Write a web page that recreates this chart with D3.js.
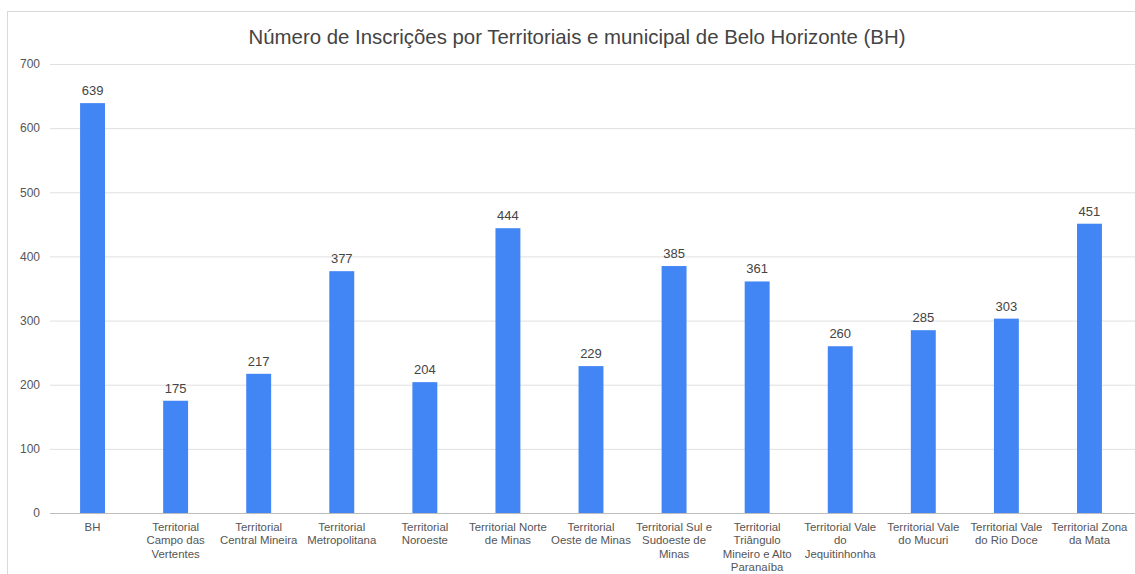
<!DOCTYPE html>
<html><head><meta charset="utf-8">
<script src="https://cdn.jsdelivr.net/npm/d3@7"></script>
<style>body{margin:0;background:#fff;}svg{display:block;font-family:"Liberation Sans",Arial,sans-serif;}</style>
</head><body>
<svg id="c" width="1135" height="574"></svg>
<script>
const categories = ["BH","Territorial Campo das Vertentes","Territorial Central Mineira","Territorial Metropolitana","Territorial Noroeste","Territorial Norte de Minas","Territorial Oeste de Minas","Territorial Sul e Sudoeste de Minas","Territorial Triângulo Mineiro e Alto Paranaíba","Territorial Vale do Jequitinhonha","Territorial Vale do Mucuri","Territorial Vale do Rio Doce","Territorial Zona da Mata"];
const labelLines = [["BH"],["Territorial","Campo das","Vertentes"],["Territorial","Central Mineira"],["Territorial","Metropolitana"],["Territorial","Noroeste"],["Territorial Norte","de Minas"],["Territorial","Oeste de Minas"],["Territorial Sul e","Sudoeste de","Minas"],["Territorial","Triângulo","Mineiro e Alto","Paranaíba"],["Territorial Vale","do","Jequitinhonha"],["Territorial Vale","do Mucuri"],["Territorial Vale","do Rio Doce"],["Territorial Zona","da Mata"]];
const values = [639,175,217,377,204,444,229,385,361,260,285,303,451];
const yTicks = [0,100,200,300,400,500,600,700];
const title = "Número de Inscrições por Territoriais e municipal de Belo Horizonte (BH)";

const svg = d3.select("#c");
// frame
svg.append("line").attr("x1",7.5).attr("x2",7.5).attr("y1",11).attr("y2",574).attr("stroke","#d9d9d9");
svg.append("line").attr("x1",7).attr("x2",1135).attr("y1",11.5).attr("y2",11.5).attr("stroke","#d9d9d9");

const x = d3.scaleBand().domain(categories).range([51,1131]).paddingInner(0.7).paddingOuter(0.35);
const y = d3.scaleLinear().domain([0,700]).range([513,64]);

svg.append("text").attr("x",577).attr("y",44).attr("text-anchor","middle")
  .attr("font-size",20.4).attr("fill","#444").text(title);

const ga = svg.append("g").attr("transform","translate(50,0)")
  .call(d3.axisLeft(y).tickValues(yTicks).tickSize(-1085).tickFormat(d3.format("d")));
ga.select(".domain").remove();
ga.selectAll(".tick line").attr("stroke",(d)=>d===0?"#bdbdbd":"#e0e0e0");
ga.selectAll(".tick text").attr("x",-10).attr("fill","#555").attr("font-size",12).attr("font-family","Liberation Sans, Arial, sans-serif");

svg.append("g").selectAll("rect").data(values).join("rect")
  .attr("x",(d,i)=>x(categories[i])).attr("width",x.bandwidth())
  .attr("y",d=>y(d)).attr("height",d=>y(0)-y(d)).attr("fill","#4285f4");

svg.append("g").selectAll("text").data(values).join("text")
  .attr("x",(d,i)=>x(categories[i])+x.bandwidth()/2).attr("y",d=>y(d)-8)
  .attr("text-anchor","middle").attr("font-size",13).attr("fill","#444").text(d=>d);

const gx = svg.append("g");
categories.forEach((c,i)=>{
  const t = gx.append("text").attr("x",x(c)+x.bandwidth()/2).attr("y",531)
    .attr("text-anchor","middle").attr("font-size",11.4).attr("fill","#555");
  labelLines[i].forEach((ln,j)=>{
    t.append("tspan").attr("x",x(c)+x.bandwidth()/2).attr("y",531+j*13.4).text(ln);
  });
});
</script>
</body></html>
